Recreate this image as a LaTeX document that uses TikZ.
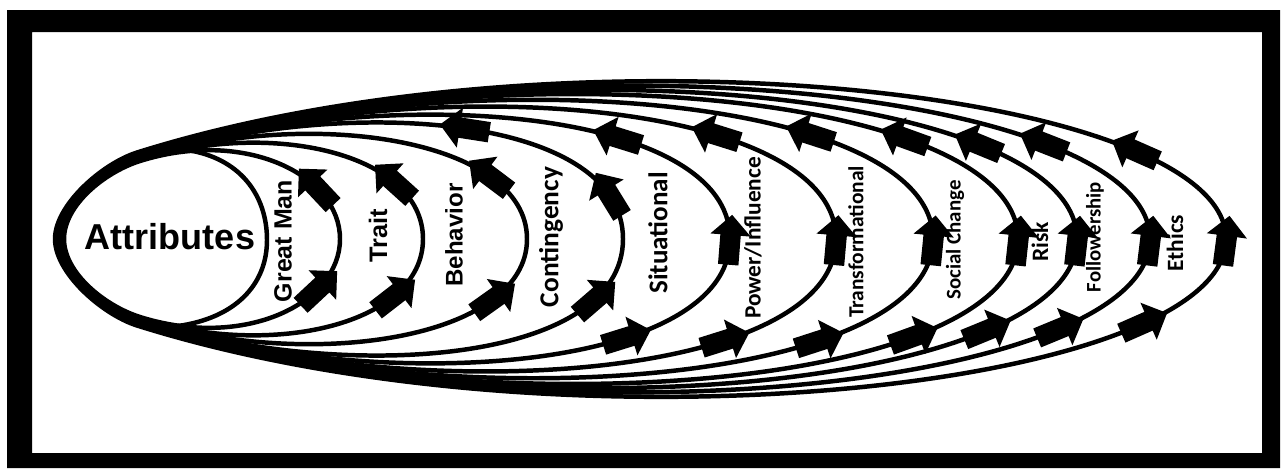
\documentclass[tikz,border=0pt]{standalone}
\usepackage{fontspec}
\newfontfamily\arialfont{Liberation Sans}
\newfontfamily\calfont{Carlito}
\usetikzlibrary{shapes.arrows}

\tikzset{
  theory/.style={line width=2.55pt},
  blockarrow/.style={single arrow,fill=black,inner xsep=0pt,inner ysep=0.16cm,
    minimum height=1cm,single arrow head extend=0.2cm,sloped,allow upside down},
  noarrow/.style={inner sep=0pt},
  arlabel/.style={rotate=90,inner sep=0pt,font=\arialfont\bfseries\fontsize{#1}{#1}\selectfont},
  cllabel/.style={rotate=90,inner sep=0pt,font=\calfont\bfseries\fontsize{#1}{#1}\selectfont}
}

\begin{document}
\begin{tikzpicture}[x=0.02cm,y=-0.02cm]
\useasboundingbox (0,0) rectangle (1284,471);
\fill[white] (0,0) rectangle (1284,471);
\fill[even odd rule] (7,10) rectangle (1280,468) (32,32) rectangle (1262,453);
% nested loops, inner to outer: apex x / pull / rise / offset / bottom arrow / top arrow / index
\foreach \ax/\len/\rise/\off/\tbot/\ttop/\idx in {
  340/110/64/0/0.69/0.28/1, 423/139/85/0.9/0.72/0.25/2, 527/179/100/1.8/0.75/0.24/3,
  623/216/125/2.7/0.8/0.12/4, 730/257/132/3.6/0.65/0.35/5, 836/298/140/4.5/0.67/0.33/6,
  933/335/145/5.4/0.69/0.31/7, 1018/368/148/6.3/0.72/0.28/8, 1077/391/150/7.2/0.75/0.25/9,
  1150/419/150/8.1/0.76/0.25/10, 1226/448/150/9/0.78/0.22/11}{
 \ifnum\idx>4\def\apexstyle{blockarrow}\else\def\apexstyle{noarrow}\fi
 \ifnum\idx=4\def\extrastyle{blockarrow}\else\def\extrastyle{noarrow}\fi
 \draw[theory] (140-0.3*\off,161-0.954*\off)
  .. controls (105-0.3*\off,172-0.954*\off) and (64-\off,205) .. (64-\off,239)
  .. controls (64-\off,273) and (105-0.3*\off,306+0.954*\off) .. (140-0.3*\off,317+0.954*\off)
  .. controls (140-0.3*\off+0.954*\len,317+0.954*\off+0.3*\len) and (\ax,239+\rise) .. (\ax,239)
     node[blockarrow,pos=\tbot]{} node[\apexstyle,pos=0.985]{}
  .. controls (\ax,239-\rise) and (140-0.3*\off+0.954*\len,161-0.954*\off-0.3*\len) .. (140-0.3*\off,161-0.954*\off)
     node[blockarrow,pos=\ttop]{} node[\extrastyle,pos=0.48]{};
}
\draw[theory] (187,150) .. controls (240,158) and (267,195) .. (267,240)
  .. controls (267,285) and (235,318) .. (178,326);
\node[font=\arialfont\bfseries\fontsize{20.5}{24}\selectfont] (attributes) at (170,237) {Attributes};
\node[arlabel=14.2] (greatman) at (283,241) {Great Man};
\node[arlabel=14.4] (trait) at (378,236) {Trait};
\node[arlabel=13.7] (behavior) at (454,235) {Behavior};
\node[cllabel=15.6] (contingency) at (551,237) {Contingency};
\node[cllabel=15.4] (situational) at (658,233) {Situational};
\node[cllabel=13.3] (power) at (753,238) {Power/Influence};
\node[cllabel=12.2] (transformational) at (856,242) {Transformational};
\node[cllabel=11.9] (socialchange) at (955,240) {Social Change};
\node[cllabel=13.4] (risk) at (1040,242) {Risk};
\node[cllabel=11.8] (followership) at (1095,237) {Followership};
\node[cllabel=13.3] (ethics) at (1175,243) {Ethics};
\end{tikzpicture}
\end{document}
